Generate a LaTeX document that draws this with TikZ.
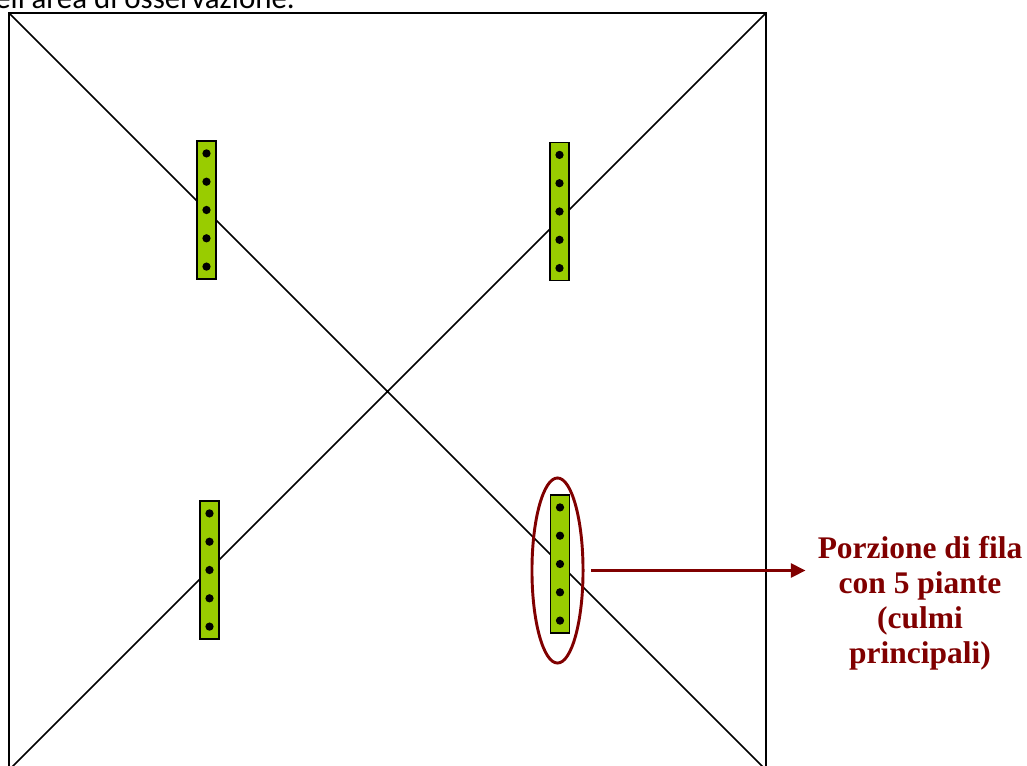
\documentclass[tikz,border=0pt]{standalone}
\usepackage{fontspec}
\setmainfont{Liberation Serif}
\newfontfamily\didafont{Carlito}
\usetikzlibrary{shapes.geometric,arrows.meta}
\definecolor{verdefila}{HTML}{99CC00}
\definecolor{rossoscuro}{HTML}{800000}
\tikzset{
  fila/.style={draw=black, line width=1.1pt, fill=verdefila, rectangle,
    minimum width=14.2pt, minimum height=103.5pt, inner sep=0pt},
  cerchio/.style={draw=rossoscuro, line width=2.2pt, ellipse,
    minimum width=38.3pt, minimum height=138.8pt, inner sep=0pt},
  freccia/.style={draw=rossoscuro, line width=2.2pt,
    -{Triangle[length=11pt,width=10.5pt]}},
}

\begin{document}
\begin{tikzpicture}[x=0.75pt,y=-0.75pt]
    \useasboundingbox (0,0) rectangle (1027,765);
    \clip (0,0) rectangle (1027,765);

    % Line of text cut by the top edge
    \node [anchor=base west, inner sep=0pt, font=\didafont\fontsize{23.2}{28}\selectfont]
        (titolo) at (-5,8) {ell'area di osservazione.};

    % Observation area: square with its two diagonals
    \coordinate (NO) at (9,13);
    \coordinate (NE) at (766,13);
    \coordinate (SO) at (9,770);
    \coordinate (SE) at (766,770);
    \draw [line width=1.5pt] (NO) rectangle (SE);
    \draw [line width=1.1pt] (NO) -- (SE) (NE) -- (SO);

    % Row portions with 5 plants each
    \foreach \nome/\x/\y in {a/206.5/210, b/559.5/211.5, c/209.5/570, d/560/564}{%
        \node [fila] (\nome) at (\x,\y) {};
        \foreach \k in {-2,...,2}
            \fill (\x,{\y+\k*28.3}) circle (3.1pt);
    }

    % Highlighted portion and its label
    \node [cerchio] (porzione) at (557.5,570.5) {};
    \node [align=center, inner sep=0pt, text=rossoscuro,
           font=\bfseries\fontsize{23.6}{26.3}\selectfont]
        (didascalia) at (920,603) {Porzione di fila\\con 5 piante\\(culmi\\principali)};
    \draw [freccia, shorten <=5pt, shorten >=9pt]
        (porzione.east) -- (porzione.east -| didascalia.west);
\end{tikzpicture}
\end{document}
